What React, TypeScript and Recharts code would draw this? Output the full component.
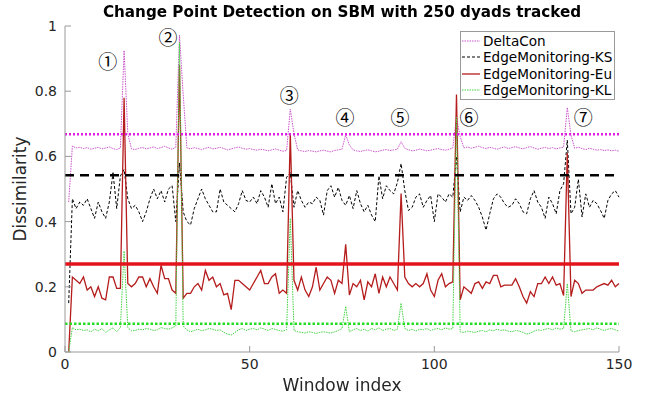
import React from 'react';
import { LineChart, Line, XAxis, YAxis, ReferenceLine, ReferenceDot } from 'recharts';

// dissimilarity per window (window index = position + 1)
const DELTACON = [
  0.46, 0.632, 0.626, 0.628, 0.624, 0.627, 0.622, 0.625, 0.628, 0.623,
  0.626, 0.629, 0.624, 0.621, 0.626, 0.925, 0.67, 0.623, 0.621, 0.625,
  0.627, 0.623, 0.626, 0.629, 0.624, 0.627, 0.631, 0.626, 0.622, 0.628,
  0.972, 0.79, 0.626, 0.623, 0.627, 0.624, 0.621, 0.625, 0.628, 0.623,
  0.625, 0.628, 0.624, 0.62, 0.623, 0.626, 0.629, 0.625, 0.622, 0.624,
  0.621, 0.619, 0.622, 0.62, 0.617, 0.62, 0.623, 0.619, 0.616, 0.618,
  0.745, 0.67, 0.62, 0.617, 0.615, 0.618, 0.616, 0.614, 0.617, 0.619,
  0.616, 0.614, 0.618, 0.62, 0.622, 0.666, 0.635, 0.62, 0.617, 0.615,
  0.618, 0.62, 0.617, 0.614, 0.616, 0.619, 0.621, 0.618, 0.62, 0.622,
  0.645, 0.625, 0.62, 0.617, 0.619, 0.622, 0.62, 0.617, 0.619, 0.622,
  0.624, 0.621, 0.619, 0.622, 0.626, 0.72, 0.66, 0.626, 0.629, 0.625,
  0.628, 0.631, 0.627, 0.624, 0.628, 0.625, 0.622, 0.626, 0.629, 0.624,
  0.627, 0.63, 0.626, 0.623, 0.627, 0.63, 0.626, 0.622, 0.625, 0.628,
  0.624, 0.627, 0.623, 0.626, 0.628, 0.75, 0.665, 0.625, 0.628, 0.624,
  0.621, 0.625, 0.622, 0.619, 0.621, 0.618, 0.62, 0.617, 0.619, 0.616,
];

const EDGE_KS = [
  0.15, 0.47, 0.44, 0.46, 0.45, 0.47, 0.44, 0.41, 0.46, 0.43,
  0.41, 0.46, 0.55, 0.44, 0.54, 0.56, 0.47, 0.44, 0.45, 0.43,
  0.4, 0.43, 0.47, 0.5, 0.47, 0.495, 0.46, 0.5, 0.51, 0.4,
  0.58, 0.43, 0.4, 0.39, 0.44, 0.47, 0.5, 0.47, 0.45, 0.43,
  0.43, 0.5, 0.46, 0.45, 0.44, 0.43, 0.455, 0.495, 0.465, 0.46,
  0.475, 0.455, 0.495, 0.475, 0.444, 0.516, 0.455, 0.475, 0.43, 0.536,
  0.55, 0.444, 0.495, 0.465, 0.444, 0.46, 0.455, 0.475, 0.465, 0.42,
  0.495, 0.51, 0.475, 0.505, 0.465, 0.45, 0.48, 0.44, 0.495, 0.455,
  0.43, 0.45, 0.42, 0.4, 0.54, 0.47, 0.51, 0.495, 0.485, 0.52,
  0.578, 0.495, 0.434, 0.444, 0.475, 0.485, 0.444, 0.465, 0.48, 0.4,
  0.485, 0.475, 0.46, 0.485, 0.475, 0.6, 0.43, 0.475, 0.465, 0.48,
  0.465, 0.444, 0.414, 0.374, 0.424, 0.47, 0.485, 0.475, 0.455, 0.444,
  0.45, 0.47, 0.455, 0.43, 0.424, 0.47, 0.495, 0.46, 0.444, 0.41,
  0.475, 0.455, 0.424, 0.495, 0.516, 0.65, 0.424, 0.444, 0.53, 0.414,
  0.485, 0.444, 0.465, 0.455, 0.434, 0.41, 0.465, 0.485, 0.495, 0.475,
];

const EDGE_EU = [
  0.0, 0.23, 0.22, 0.21, 0.23, 0.19, 0.2, 0.17, 0.2, 0.165,
  0.16, 0.23, 0.23, 0.195, 0.195, 0.78, 0.21, 0.2, 0.21, 0.23,
  0.23, 0.2, 0.225, 0.2, 0.18, 0.266, 0.225, 0.225, 0.19, 0.18,
  0.88, 0.165, 0.18, 0.18, 0.2, 0.21, 0.19, 0.25, 0.22, 0.23,
  0.2, 0.21, 0.175, 0.18, 0.13, 0.22, 0.22, 0.21, 0.2, 0.19,
  0.21, 0.23, 0.25, 0.21, 0.21, 0.23, 0.24, 0.18, 0.19, 0.18,
  0.67, 0.22, 0.19, 0.23, 0.19, 0.17, 0.2, 0.26, 0.19, 0.21,
  0.23, 0.22, 0.18, 0.22, 0.21, 0.33, 0.175, 0.21, 0.2, 0.22,
  0.16, 0.215, 0.2, 0.24, 0.18, 0.23, 0.2, 0.23, 0.21, 0.19,
  0.486, 0.23, 0.21, 0.2, 0.21, 0.2, 0.21, 0.24, 0.19, 0.17,
  0.22, 0.24, 0.2, 0.21, 0.215, 0.79, 0.16, 0.2, 0.19, 0.18,
  0.21, 0.215, 0.195, 0.215, 0.21, 0.235, 0.235, 0.2, 0.205, 0.205,
  0.205, 0.225, 0.2, 0.17, 0.15, 0.185, 0.17, 0.21, 0.21, 0.23,
  0.21, 0.23, 0.205, 0.21, 0.173, 0.61, 0.17, 0.22, 0.21, 0.18,
  0.19, 0.19, 0.19, 0.2, 0.205, 0.21, 0.205, 0.22, 0.2, 0.21,
];

const EDGE_KL = [
  0.0, 0.075, 0.068, 0.07, 0.066, 0.068, 0.062, 0.07, 0.065, 0.072,
  0.06, 0.068, 0.074, 0.062, 0.075, 0.31, 0.075, 0.065, 0.066, 0.07,
  0.068, 0.072, 0.07, 0.066, 0.068, 0.075, 0.072, 0.07, 0.074, 0.08,
  0.95, 0.08, 0.068, 0.062, 0.066, 0.07, 0.065, 0.068, 0.072, 0.07,
  0.066, 0.068, 0.06, 0.055, 0.052, 0.06, 0.068, 0.072, 0.066, 0.07,
  0.072, 0.068, 0.074, 0.07, 0.066, 0.072, 0.069, 0.066, 0.064, 0.068,
  0.41, 0.066, 0.062, 0.06, 0.058, 0.062, 0.06, 0.057, 0.06, 0.062,
  0.06, 0.058, 0.062, 0.066, 0.072, 0.14, 0.062, 0.068, 0.072, 0.066,
  0.07, 0.064, 0.072, 0.068, 0.074, 0.066, 0.07, 0.072, 0.066, 0.07,
  0.15, 0.072, 0.066, 0.07, 0.064, 0.07, 0.068, 0.072, 0.066, 0.07,
  0.072, 0.068, 0.074, 0.07, 0.072, 0.72, 0.062, 0.06, 0.064, 0.062,
  0.06, 0.064, 0.066, 0.062, 0.068, 0.065, 0.07, 0.066, 0.068, 0.064,
  0.062, 0.066, 0.064, 0.06, 0.055, 0.058, 0.064, 0.068, 0.066, 0.07,
  0.072, 0.068, 0.074, 0.07, 0.072, 0.21, 0.065, 0.062, 0.066, 0.068,
  0.07, 0.072, 0.068, 0.074, 0.07, 0.066, 0.07, 0.072, 0.068, 0.064,
];

// detection thresholds
const DELTACON_THRESHOLD = 0.668;
const KS_THRESHOLD = 0.542;
const EU_THRESHOLD = 0.27;
const KL_THRESHOLD = 0.087;

// circled change point markers
const MARK_LABELS = ['①', '②', '③', '④', '⑤', '⑥', '⑦'];
const MARK_X = [11.6, 27.9, 60.7, 75.8, 90.7, 109.4, 140.3];
const MARK_Y = [0.89, 0.963, 0.785, 0.718, 0.718, 0.718, 0.718];

const X_TICKS = [0, 50, 100, 150];
const Y_TICKS = [0, 0.2, 0.4, 0.6, 0.8, 1];

const W = 653;
const H = 398;
const PLOT = { left: 65, top: 26, right: 619, bottom: 352 };
const FONT = '"DejaVu Sans", sans-serif';
const AXIS_COLOR = '#9a9a9a';
const TEXT_COLOR = '#262626';

const SERIES = [
  { key: 'deltaCon', name: 'DeltaCon', color: '#cc55cc', width: 1, dash: '1.5 1' },
  { key: 'ks', name: 'EdgeMonitoring-KS', color: '#000000', width: 1, dash: '3 2' },
  { key: 'eu', name: 'EdgeMonitoring-Eu', color: '#b51c1c', width: 1.3, dash: undefined },
  { key: 'kl', name: 'EdgeMonitoring-KL', color: '#44d444', width: 1, dash: '1.5 1' },
];

const data = DELTACON.map((v, k) => ({
  idx: k + 1,
  deltaCon: v,
  ks: EDGE_KS[k],
  eu: EDGE_EU[k],
  kl: EDGE_KL[k],
}));

function BottomTick({ x, payload }: any) {
  return (
    <g>
      <line x1={x} x2={x} y1={PLOT.bottom} y2={PLOT.bottom - 6} stroke={AXIS_COLOR} />
      <text x={x} y={PLOT.bottom + 17} textAnchor="middle" fontSize={14} fill={TEXT_COLOR} fontFamily={FONT}>
        {payload.value}
      </text>
    </g>
  );
}

function TopTick({ x }: any) {
  return <line x1={x} x2={x} y1={PLOT.top} y2={PLOT.top + 6} stroke={AXIS_COLOR} />;
}

function LeftTick({ y, payload }: any) {
  return (
    <g>
      <line x1={PLOT.left} x2={PLOT.left + 6} y1={y} y2={y} stroke={AXIS_COLOR} />
      <text x={PLOT.left - 8} y={y + 5} textAnchor="end" fontSize={14} fill={TEXT_COLOR} fontFamily={FONT}>
        {payload.value}
      </text>
    </g>
  );
}

function RightTick({ y }: any) {
  return <line x1={PLOT.right} x2={PLOT.right - 6} y1={y} y2={y} stroke={AXIS_COLOR} />;
}

function LegendBox() {
  return (
    <div
      style={{
        position: 'absolute',
        left: 460,
        top: 31,
        width: 153,
        height: 66,
        border: `1px solid ${AXIS_COLOR}`,
        background: '#fff',
        fontFamily: FONT,
        fontSize: 13.6,
        color: '#000',
        paddingTop: 1,
        whiteSpace: 'nowrap',
      }}
    >
      {SERIES.map(s => (
        <div key={s.key} style={{ display: 'flex', alignItems: 'center', height: 16.3 }}>
          <svg width={21} height={10} style={{ marginLeft: 1 }}>
            <line x1={0} x2={18} y1={5} y2={5} stroke={s.color} strokeWidth={s.width} strokeDasharray={s.dash} />
          </svg>
          <span>{s.name}</span>
        </div>
      ))}
    </div>
  );
}

export default function App() {
  return (
    <div style={{ position: 'fixed', left: 0, top: 0, width: W, height: H, background: '#fff' }}>
      <LineChart
        width={W}
        height={H}
        data={data}
        margin={{ top: PLOT.top, right: W - PLOT.right, left: 5, bottom: 6 }}
      >
        <XAxis
          dataKey="idx"
          type="number"
          domain={[0, 150]}
          ticks={X_TICKS}
          height={40}
          stroke={AXIS_COLOR}
          tickLine={false}
          tick={<BottomTick />}
        />
        <XAxis
          xAxisId="top"
          orientation="top"
          type="number"
          domain={[0, 150]}
          ticks={X_TICKS}
          height={0}
          stroke={AXIS_COLOR}
          tickLine={false}
          tick={<TopTick />}
        />
        <YAxis
          type="number"
          domain={[0, 1]}
          ticks={Y_TICKS}
          width={60}
          stroke={AXIS_COLOR}
          tickLine={false}
          tick={<LeftTick />}
        />
        <YAxis
          yAxisId="right"
          orientation="right"
          type="number"
          domain={[0, 1]}
          ticks={Y_TICKS}
          width={0}
          stroke={AXIS_COLOR}
          tickLine={false}
          tick={<RightTick />}
        />
        {SERIES.map(s => (
          <Line
            key={s.key}
            dataKey={s.key}
            stroke={s.color}
            strokeWidth={s.width}
            strokeDasharray={s.dash}
            dot={false}
            activeDot={false}
            type="linear"
            isAnimationActive={false}
          />
        ))}
        <ReferenceLine y={DELTACON_THRESHOLD} stroke="#e01ee0" strokeWidth={2.5} strokeDasharray="2 2" />
        <ReferenceLine y={KS_THRESHOLD} stroke="#000" strokeWidth={2.5} strokeDasharray="9 6" />
        <ReferenceLine y={EU_THRESHOLD} stroke="#e4141c" strokeWidth={3.5} />
        <ReferenceLine y={KL_THRESHOLD} stroke="#22dd22" strokeWidth={2.5} strokeDasharray="2.5 2" />
        {MARK_LABELS.map((m, k) => (
          <ReferenceDot
            key={m}
            x={MARK_X[k]}
            y={MARK_Y[k]}
            r={1}
            fill="none"
            stroke="none"
            label={{ value: m, position: 'center', fontSize: 19, fill: '#000', fontFamily: '"Noto Sans CJK JP", "DejaVu Sans", sans-serif' }}
          />
        ))}
      </LineChart>
      <div
        style={{
          position: 'absolute',
          left: 0,
          top: 2,
          width: PLOT.left + PLOT.right,
          textAlign: 'center',
          fontFamily: FONT,
          fontWeight: 'bold',
          fontSize: 15.2,
          lineHeight: '20px',
          color: '#000',
        }}
      >
        Change Point Detection on SBM with 250 dyads tracked
      </div>
      <div
        style={{
          position: 'absolute',
          left: 0,
          top: 375,
          width: PLOT.left + PLOT.right,
          textAlign: 'center',
          fontFamily: FONT,
          fontSize: 17,
          lineHeight: '20px',
          color: TEXT_COLOR,
        }}
      >
        Window index
      </div>
      <div
        style={{
          position: 'absolute',
          left: 20 - 100,
          top: (PLOT.top + PLOT.bottom) / 2 - 10,
          width: 200,
          textAlign: 'center',
          transform: 'rotate(-90deg)',
          fontFamily: FONT,
          fontSize: 17,
          lineHeight: '20px',
          color: TEXT_COLOR,
        }}
      >
        Dissimilarity
      </div>
      <LegendBox />
    </div>
  );
}
